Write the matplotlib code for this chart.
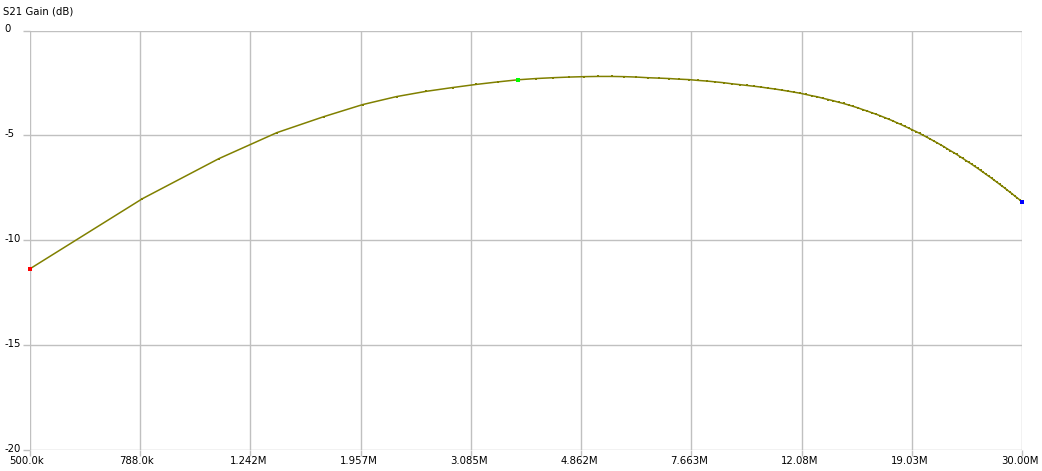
import numpy as np
import matplotlib
matplotlib.use("Agg")
import matplotlib.pyplot as plt
from matplotlib.transforms import ScaledTranslation

# ---- data ----
sweep_start_hz = 0.5e6
sweep_stop_hz = 30.0e6
sweep_points = 101

s21_db = [
    -11.36, -8.02, -6.11, -4.87, -4.11, -3.53, -3.15, -2.90, -2.72, -2.57,
    -2.45, -2.35, -2.29, -2.25, -2.22, -2.20, -2.19, -2.19, -2.20, -2.22,
    -2.25, -2.27, -2.29, -2.32, -2.34, -2.38, -2.41, -2.45, -2.49, -2.54,
    -2.58, -2.62, -2.66, -2.70, -2.75, -2.79, -2.84, -2.89, -2.94, -2.99,
    -3.05, -3.11, -3.16, -3.23, -3.29, -3.35, -3.42, -3.48, -3.55, -3.62,
    -3.69, -3.77, -3.84, -3.92, -3.99, -4.07, -4.15, -4.23, -4.31, -4.40,
    -4.48, -4.57, -4.65, -4.74, -4.82, -4.91, -5.00, -5.09, -5.18, -5.27,
    -5.36, -5.45, -5.54, -5.64, -5.73, -5.82, -5.91, -6.01, -6.10, -6.20,
    -6.29, -6.38, -6.48, -6.57, -6.67, -6.76, -6.86, -6.95, -7.04, -7.14,
    -7.23, -7.33, -7.42, -7.51, -7.61, -7.70, -7.79, -7.89, -7.98, -8.07,
    -8.19,
]

x_tick_values = [0.5e6, 0.788e6, 1.242e6, 1.957e6, 3.085e6, 4.862e6,
                 7.663e6, 12.08e6, 19.03e6, 30.00e6]
x_tick_labels = ["500.0k", "788.0k", "1.242M", "1.957M", "3.085M", "4.862M",
                 "7.663M", "12.08M", "19.03M", "30.00M"]
y_tick_values = [0, -5, -10, -15, -20]
y_tick_labels = ["0", "-5", "-10", "-15", "-20"]
marker_index = 11
title_text = "S21 Gain (dB)"

freq_hz = np.linspace(sweep_start_hz, sweep_stop_hz, sweep_points)
gain = np.array(s21_db)

# ---- figure ----
W, H = 1042, 471
fig = plt.figure(figsize=(W / 100, H / 100), dpi=100)
left_px, right_px, top_px, bot_px = 30, 1022, 30.5, 450
ax = fig.add_axes([left_px / W, (H - bot_px) / H,
                   (right_px - left_px) / W, (bot_px - top_px) / H])

grid_c = "#c0c0c0"
font = dict(family="DejaVu Sans", size=7.3)

ax.set_xscale("log")
ax.set_xlim(sweep_start_hz, sweep_stop_hz)
ax.set_ylim(-20, 0)
for s in ax.spines.values():
    s.set_visible(False)

ax.set_xticks(x_tick_values)
ax.set_xticklabels(x_tick_labels, **font)
ax.xaxis.set_minor_locator(matplotlib.ticker.NullLocator())
ax.set_yticks(y_tick_values)
ax.set_yticklabels(y_tick_labels, **font)
ax.grid(True, color=grid_c, linewidth=1)
ax.tick_params(axis="both", color=grid_c, width=1, length=4, direction="out")
ax.tick_params(axis="x", pad=1)
ax.tick_params(axis="y", pad=1, length=5)

for lbl in ax.get_xticklabels():
    lbl.set_horizontalalignment("left")
    lbl.set_transform(lbl.get_transform() + ScaledTranslation(-21 / 100, 1 / 100, fig.dpi_scale_trans))
for lbl in ax.get_yticklabels():
    lbl.set_horizontalalignment("left")
    lbl.set_transform(lbl.get_transform() + ScaledTranslation(-17 / 100, 2 / 100, fig.dpi_scale_trans))

ax.plot(freq_hz, gain, color="#808000", linewidth=1.1, marker="s",
        markersize=1.8, markeredgewidth=0, zorder=3, clip_on=False)
ax.plot(freq_hz[0], gain[0], "s", color="#ff0000", markersize=2.5,
        markeredgewidth=0, zorder=4, clip_on=False)
ax.plot(freq_hz[-1], gain[-1], "s", color="#0000ff", markersize=2.5,
        markeredgewidth=0, zorder=4, clip_on=False)
ax.plot(freq_hz[marker_index], gain[marker_index], "s", color="#00ff00",
        markersize=2.2, markeredgewidth=0, zorder=4, clip_on=False)

fig.text(3 / W, 1 - 12 / H, title_text, ha="left", va="center", **font)

fig.savefig("out.png", dpi=100, facecolor="white")
